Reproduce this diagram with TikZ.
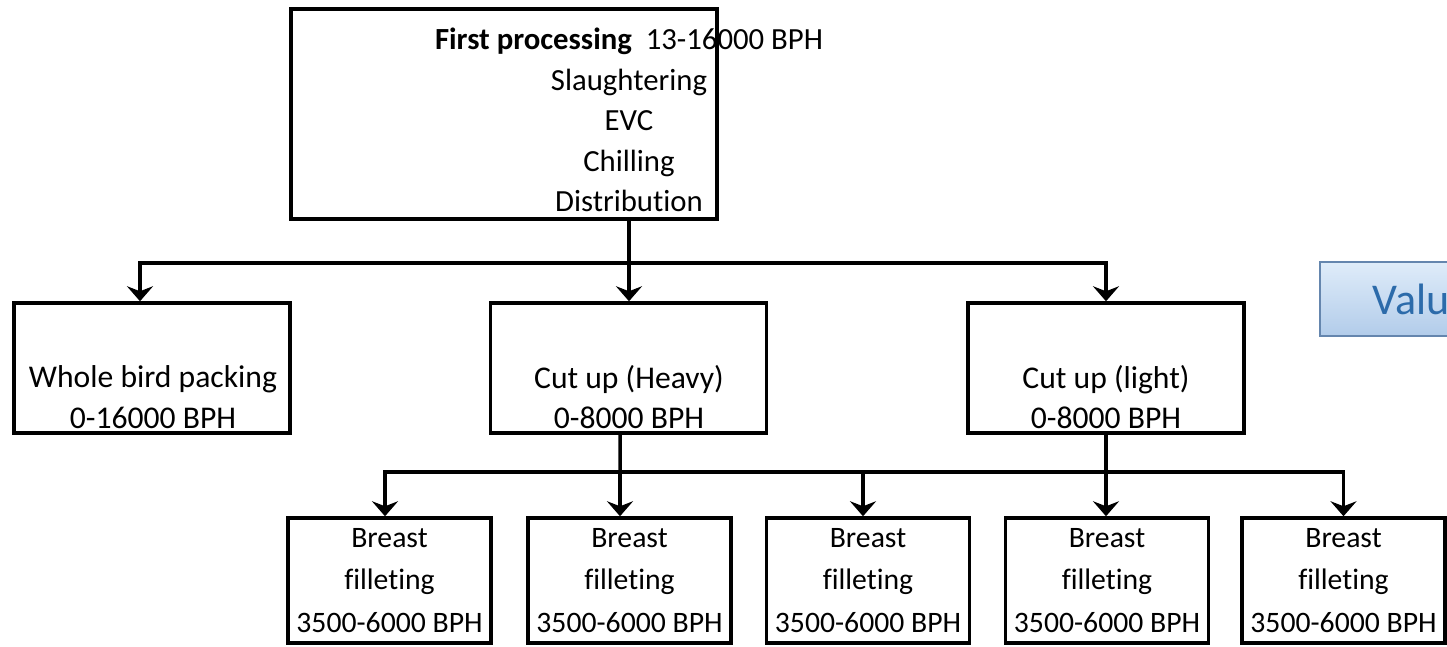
\documentclass[tikz,border=0pt]{standalone}
\usepackage{fontspec}
\setmainfont[Ligatures=NoCommon]{Carlito}
\usepackage{xcolor}
\usepackage{tikz}
\usetikzlibrary{arrows.meta,positioning,calc}

\definecolor{valtop}{HTML}{DFECF9}
\definecolor{valbottom}{HTML}{B2CCEA}
\definecolor{valline}{HTML}{6586AE}
\definecolor{valtext}{HTML}{2C6BAA}

\begin{document}
\begin{tikzpicture}[
    x=0.02cm, y=-0.02cm,
    font=\fontsize{17.5}{23}\selectfont,
    procbox/.style={draw, line width=2pt, rectangle, inner sep=0pt},
    topbox/.style={procbox, minimum width=8.52cm, minimum height=4.2cm},
    cutbox/.style={procbox, minimum width=5.52cm, minimum height=2.6cm},
    filletbox/.style={procbox, minimum width=4.06cm, minimum height=2.5cm, align=center,
        font=\fontsize{16.9}{24}\selectfont},
    boxtext/.style={align=center, inner sep=0pt},
    valuebox/.style={draw=valline, line width=1pt, top color=valtop, bottom color=valbottom,
        text=valtext, font=\fontsize{25}{30}\selectfont, minimum height=1.48cm,
        inner xsep=1.06cm, anchor=west},
    link/.style={line width=2pt},
    arrow/.style={link, -{Stealth[length=0.3cm, width=0.52cm, inset=0.1cm]}}
]
\useasboundingbox (0,0) rectangle (1447,646);

% first processing
\node[topbox] (fp) at (504,114) {};
\node[boxtext] (fptext) at (629,120) {\textbf{First processing}\ \ 13-16000 BPH\\Slaughtering\\EVC\\Chilling\\Distribution};

% second level
\node[cutbox] (whole) at (152,368) {};
\node[boxtext, font=\fontsize{18}{23}\selectfont] (wholetext) at (153,397) {Whole bird packing\\0-16000 BPH};
\node[cutbox] (heavy) at (628.5,368) {};
\node[boxtext, font=\fontsize{18}{23}\selectfont] (heavytext) at (629,397) {Cut up (Heavy)\\0-8000 BPH};
\node[cutbox] (light) at (1106,368) {};
\node[boxtext, font=\fontsize{18}{23}\selectfont] (lighttext) at (1106,397) {Cut up (light)\\0-8000 BPH};

% breast filleting lines
\node[filletbox] (bf1) at (389.5,580.5) {Breast\\filleting\\3500-6000 BPH};
\node[filletbox] (bf2) at (629.5,580.5) {Breast\\filleting\\3500-6000 BPH};
\node[filletbox] (bf3) at (868,580.5) {Breast\\filleting\\3500-6000 BPH};
\node[filletbox] (bf4) at (1107,580.5) {Breast\\filleting\\3500-6000 BPH};
\node[filletbox] (bf5) at (1343.5,580.5) {Breast\\filleting\\3500-6000 BPH};

\node[valuebox] (value) at (1319,299) {Value added};

% connectors
\coordinate (lvl1) at (629,263);
\draw[link] (lvl1 |- fp.south) -- (lvl1);
\draw[arrow] (lvl1) -| ([xshift=-0.24cm]whole.north);
\draw[arrow] (lvl1) -- (lvl1 |- heavy.north);
\draw[arrow] (lvl1) -| (light.north);

\coordinate (lvl2) at (620,472);
\draw[link] ([xshift=-0.17cm]heavy.south) -- (lvl2);
\draw[arrow] (lvl2) -| ([xshift=-0.09cm]bf1.north);
\draw[arrow] (lvl2) -- (lvl2 |- bf2.north);
\draw[arrow] (lvl2) -| ([xshift=-0.1cm]bf3.north);
\draw[arrow] (light.south) -- (light.south |- bf4.north);
\draw[arrow] (lvl2) -| (bf5.north);
\end{tikzpicture}
\end{document}
